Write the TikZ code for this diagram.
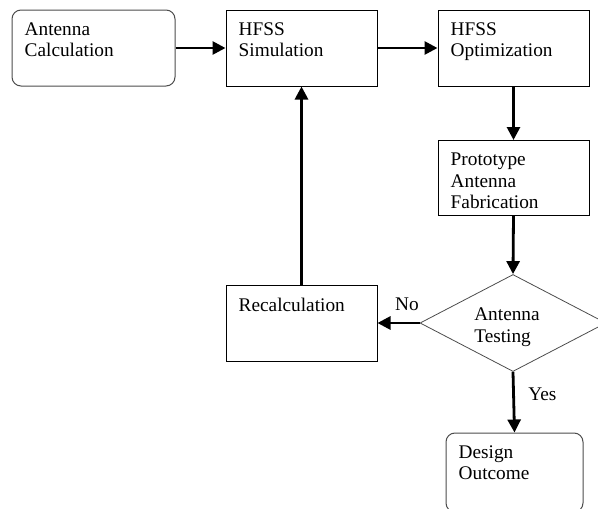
\documentclass[tikz,border=0pt]{standalone}
\usepackage{fontspec}
\setmainfont{Liberation Serif}
\usetikzlibrary{arrows.meta,shapes.geometric}

\begin{document}
\begin{tikzpicture}[x=1pt,y=-1pt,
  font=\fontsize{19.3}{21.5}\selectfont,
  >={Triangle[length=13pt,width=13pt]},
  stepbox/.style={draw,line width=1pt,minimum width=151pt,minimum height=76pt,inner sep=0pt},
  endbox/.style={stepbox,draw=black!70,rounded corners=9pt},
  txt/.style={label={[anchor=north west,inner sep=0pt,align=left,xshift=13pt,yshift=-13pt]north west:#1}},
  testbox/.style={draw=black!70,line width=0.8pt,shape=diamond,minimum width=186pt,minimum height=97pt,inner sep=0pt},
  flow/.style={->,line width=2.8pt}]
\useasboundingbox (0,0) rectangle (598,509);
% boxes
\node[endbox,minimum width=163pt,txt={Antenna\\Calculation}] (calc) at (93.5,48) {};
\node[stepbox,txt={HFSS\\Simulation}] (sim) at (301.5,48) {};
\node[stepbox,txt={HFSS\\Optimization}] (opt) at (513.5,48) {};
\node[stepbox,minimum height=75pt,txt={Prototype\\Antenna\\Fabrication}] (proto) at (513.5,178) {};
\node[testbox,label={[align=left,inner sep=0pt,xshift=-6pt,yshift=-4pt]center:Antenna\\Testing}] (test) at (513,323) {};
\node[stepbox,txt={Recalculation}] (recalc) at (301.5,323) {};
\node[endbox,minimum width=137pt,minimum height=79pt,txt={Design\\Outcome}] (out) at (514.5,472.5) {};
% arrows
\foreach \a/\b in {calc.east/sim.west,sim.east/opt.west,opt.south/proto.north,
  proto.south/test.north,recalc.north/sim.south}
\draw[flow](\a)--(\b);
\draw[flow](test.west)--node[above=8pt,pos=0.3]{No}(recalc.east);
\draw[flow](test.south)--node[right=10pt,pos=0.37]{Yes}(out.north);
\end{tikzpicture}
\end{document}
